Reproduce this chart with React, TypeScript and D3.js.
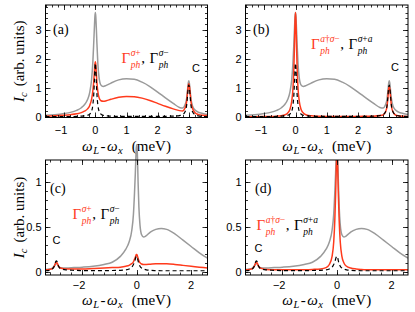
import React, { useEffect, useRef } from 'react';
import * as d3 from 'd3';

// top row (a), (b): detuning grid and intensities
const xTop = [
	-1.6, -1.3, -1.0, -0.8, -0.6, -0.45, -0.35, -0.25, -0.18, -0.12,
	-0.08, -0.05, -0.03, -0.015, 0, 0.015, 0.03, 0.05, 0.08, 0.12,
	0.18, 0.25, 0.35, 0.5, 0.75, 1.0, 1.25, 1.5, 1.75, 2.0,
	2.25, 2.5, 2.7, 2.8, 2.88, 2.93, 2.96, 2.98, 3.0, 3.02,
	3.04, 3.07, 3.12, 3.2, 3.3, 3.45, 3.6,
];
const grayTop = [
	0.06, 0.08, 0.12, 0.16, 0.23, 0.32, 0.42, 0.6, 0.85, 1.3,
	1.9, 2.6, 3.1, 3.45, 3.6, 3.45, 3.1, 2.55, 1.85, 1.35,
	1.1, 1.05, 1.09, 1.17, 1.28, 1.32, 1.3, 1.2, 1.05, 0.86,
	0.66, 0.47, 0.33, 0.31, 0.42, 0.63, 0.93, 1.15, 1.25, 1.15,
	0.93, 0.63, 0.38, 0.24, 0.17, 0.12, 0.09,
];
const redTopA = [
	0.03, 0.04, 0.06, 0.08, 0.11, 0.15, 0.2, 0.28, 0.4, 0.62,
	0.9, 1.25, 1.55, 1.8, 1.9, 1.8, 1.55, 1.2, 0.88, 0.66,
	0.56, 0.54, 0.56, 0.61, 0.68, 0.71, 0.7, 0.65, 0.57, 0.47,
	0.37, 0.28, 0.22, 0.21, 0.31, 0.53, 0.86, 1.06, 1.15, 1.06,
	0.86, 0.53, 0.29, 0.15, 0.09, 0.06, 0.05,
];
const redTopB = [
	0.01, 0.01, 0.015, 0.02, 0.03, 0.045, 0.07, 0.14, 0.26, 0.55,
	1.0, 1.75, 2.6, 3.3, 3.6, 3.3, 2.6, 1.75, 1.0, 0.55,
	0.26, 0.14, 0.07, 0.04, 0.025, 0.02, 0.02, 0.02, 0.02, 0.02,
	0.025, 0.03, 0.05, 0.07, 0.17, 0.38, 0.7, 0.95, 1.05, 0.95,
	0.7, 0.38, 0.17, 0.07, 0.04, 0.025, 0.02,
];
const blackTop = [
	0.01, 0.01, 0.01, 0.015, 0.02, 0.03, 0.04, 0.06, 0.1, 0.2,
	0.42, 0.8, 1.25, 1.65, 1.85, 1.65, 1.25, 0.8, 0.42, 0.2,
	0.1, 0.06, 0.04, 0.03, 0.02, 0.02, 0.02, 0.02, 0.02, 0.02,
	0.025, 0.03, 0.05, 0.08, 0.18, 0.4, 0.75, 1.0, 1.1, 1.0,
	0.75, 0.4, 0.18, 0.08, 0.04, 0.02, 0.015,
];

// bottom row (c), (d)
const xBottom = [
	-3.35, -3.2, -3.1, -3.03, -2.99, -2.97, -2.95, -2.93, -2.91, -2.87,
	-2.8, -2.6, -2.3, -2.0, -1.6, -1.2, -0.9, -0.6, -0.4, -0.28,
	-0.18, -0.12, -0.08, -0.05, -0.03, -0.015, 0, 0.015, 0.03, 0.05,
	0.08, 0.12, 0.18, 0.25, 0.35, 0.5, 0.7, 0.9, 1.1, 1.4,
	1.7, 2.0, 2.3, 2.6,
];
const grayBottom = [
	0.025, 0.03, 0.04, 0.06, 0.08, 0.088, 0.09, 0.088, 0.08, 0.06,
	0.045, 0.04, 0.045, 0.05, 0.06, 0.08, 0.105, 0.17, 0.25, 0.33,
	0.46, 0.64, 0.88, 1.1, 1.28, 1.38, 1.41, 1.38, 1.25, 1.0,
	0.72, 0.52, 0.41, 0.385, 0.4, 0.44, 0.47, 0.48, 0.47, 0.42,
	0.35, 0.28, 0.21, 0.15,
];
const redBottomC = [
	0.02, 0.025, 0.035, 0.06, 0.09, 0.1, 0.105, 0.1, 0.09, 0.06,
	0.04, 0.03, 0.03, 0.03, 0.035, 0.04, 0.045, 0.05, 0.06, 0.07,
	0.09, 0.11, 0.14, 0.16, 0.18, 0.19, 0.19, 0.185, 0.17, 0.15,
	0.12, 0.1, 0.085, 0.08, 0.08, 0.083, 0.087, 0.088, 0.087, 0.08,
	0.07, 0.06, 0.05, 0.04,
];
const redBottomD = [
	0.02, 0.025, 0.035, 0.06, 0.09, 0.1, 0.105, 0.1, 0.09, 0.06,
	0.04, 0.025, 0.02, 0.02, 0.02, 0.022, 0.025, 0.03, 0.045, 0.08,
	0.17, 0.33, 0.57, 0.86, 1.1, 1.25, 1.3, 1.25, 1.1, 0.86,
	0.57, 0.33, 0.17, 0.1, 0.06, 0.04, 0.03, 0.025, 0.022, 0.02,
	0.02, 0.02, 0.02, 0.02,
];
const blackBottom = [
	0.01, 0.015, 0.03, 0.06, 0.1, 0.115, 0.12, 0.115, 0.1, 0.06,
	0.035, 0.02, 0.015, 0.012, 0.012, 0.012, 0.013, 0.015, 0.02, 0.03,
	0.05, 0.08, 0.11, 0.14, 0.16, 0.17, 0.17, 0.165, 0.15, 0.12,
	0.09, 0.06, 0.04, 0.03, 0.02, 0.015, 0.012, 0.01, 0.01, 0.01,
	0.01, 0.01, 0.01, 0.01,
];

const xTicksTop = [-1, 0, 1, 2, 3];
const yTicksTop = [0, 1, 2, 3];
const xTicksBottom = [-2, 0, 2];
const yTicksBottom = [0, 0.5, 1];
const panelLetters = ['(a)', '(b)', '(c)', '(d)'];
const legendSups = [
	['σ+', 'σ−'],
	['a†σ−', 'σ+a'],
	['σ+', 'σ−'],
	['a†σ−', 'σ+a'],
];

const SANS = "'Liberation Sans', Arial, sans-serif";
const SERIF = "'Liberation Serif', 'Times New Roman', serif";
const RED = '#ff3a1c';
const GRAY = '#9a9a9a';

const width = 415;
const height = 312;

const rowTop = { y0: 5, y1: 117.5, yDom: [-0.017, 3.86], yTicks: yTicksTop, yMinor: 0.2, xDom: [-1.6, 3.6], xTicks: xTicksTop, xMinor: 0.2, xs: xTop, tickY: 133.5, titleY: 150.5 };
const rowBottom = { y0: 160, y1: 275, yDom: [-0.037, 1.241], yTicks: yTicksBottom, yMinor: 0.1, xDom: [-3.35, 2.6], xTicks: xTicksBottom, xMinor: 0.4, xs: xBottom, tickY: 288.5, titleY: 305 };
const colLeft = { x0: 45.5, x1: 207.5 };
const colRight = { x0: 245.5, x1: 408 };

const panels = [
	{ row: rowTop, col: colLeft, gray: grayTop, red: redTopA, black: blackTop, clip: true, leg: [121.5, 63], cLab: [196, 72], letter: [53, 34] },
	{ row: rowTop, col: colRight, gray: grayTop, red: redTopB, black: blackTop, clip: true, leg: [311, 49], cLab: [395, 71], letter: [253, 34] },
	{ row: rowBottom, col: colLeft, gray: grayBottom, red: redBottomC, black: blackBottom, clip: false, leg: [72.5, 219], cLab: [56.5, 244], letter: [50, 193] },
	{ row: rowBottom, col: colRight, gray: grayBottom, red: redBottomD, black: blackBottom, clip: true, leg: [256.5, 230], cLab: [258.5, 252], letter: [255, 193] },
];

const Chart = () => {
	const ref = useRef(null);

	useEffect(() => {
		const svg = d3.select(ref.current);
		svg.selectAll('*').remove();

		const scriptText = (g, x, y, str, size, color) => {
			const t = g.append('text').attr('x', x).attr('y', y).attr('fill', color)
				.style('font-family', SERIF).style('font-size', size + 'px');
			for (const ch of str) {
				t.append('tspan').style('font-style', /[a-zσ]/.test(ch) ? 'italic' : 'normal').text(ch);
			}
			return t.node().getComputedTextLength();
		};

		const gamma = (g, x, y, sup, color) => {
			const base = g.append('text').attr('x', x).attr('y', y).attr('fill', color)
				.style('font-family', SERIF).style('font-size', '15px').text('Γ');
			const w = base.node().getComputedTextLength();
			const ws = scriptText(g, x + w + 0.5, y - 7.5, sup, 9.5, color);
			const wb = scriptText(g, x + w + 0.5, y + 5, 'ph', 9.5, color);
			return x + w + 0.5 + Math.max(ws, wb);
		};

		panels.forEach((p, i) => {
			const { row, col } = p;
			const x = d3.scaleLinear().domain(row.xDom).range([col.x0, col.x1]);
			const y = d3.scaleLinear().domain(row.yDom).range([row.y1, row.y0]);
			const g = svg.append('g');

			const clipId = `clip-${i}`;
			svg.append('clipPath').attr('id', clipId).append('rect')
				.attr('x', col.x0).attr('y', row.y0)
				.attr('width', col.x1 - col.x0).attr('height', row.y1 - row.y0);

			const line = d3.line()
				.x((d) => x(d[0]))
				.y((d) => y(d[1]))
				.curve(d3.curveMonotoneX);

			const curves = g.append('g');
			if (p.clip) curves.attr('clip-path', `url(#${clipId})`);
			const series = [
				{ v: p.gray, color: GRAY, w: 1.5, dash: null },
				{ v: p.red, color: RED, w: 1.5, dash: null },
				{ v: p.black, color: '#000', w: 1.2, dash: '4,3' },
			];
			series.forEach((s) => {
				curves.append('path')
					.datum(row.xs.map((xv, k) => [xv, s.v[k]]))
					.attr('d', line)
					.attr('fill', 'none')
					.attr('stroke', s.color)
					.attr('stroke-width', s.w)
					.attr('stroke-dasharray', s.dash);
			});

			// frame
			g.append('rect')
				.attr('x', col.x0).attr('y', row.y0)
				.attr('width', col.x1 - col.x0).attr('height', row.y1 - row.y0)
				.attr('fill', 'none').attr('stroke', '#000').attr('stroke-width', 1);

			// ticks, inward on all sides
			const ticks = g.append('g').attr('stroke', '#000').attr('stroke-width', 0.8);
			const xMinor = d3.range(Math.ceil(row.xDom[0] / row.xMinor) * row.xMinor, row.xDom[1], row.xMinor);
			const yMinor = d3.range(Math.ceil(row.yDom[0] / row.yMinor) * row.yMinor, row.yDom[1], row.yMinor);
			const xt = [...xMinor.map((v) => [v, 2.5]), ...row.xTicks.map((v) => [v, 5])];
			const yt = [...yMinor.map((v) => [v, 2.5]), ...row.yTicks.map((v) => [v, 5])];
			xt.forEach(([v, len]) => {
				const px = Math.round(x(v)) + 0.5;
				ticks.append('line').attr('x1', px).attr('x2', px).attr('y1', row.y1).attr('y2', row.y1 - len);
				ticks.append('line').attr('x1', px).attr('x2', px).attr('y1', row.y0).attr('y2', row.y0 + len);
			});
			yt.forEach(([v, len]) => {
				const py = Math.round(y(v)) + 0.5;
				ticks.append('line').attr('y1', py).attr('y2', py).attr('x1', col.x0).attr('x2', col.x0 + len);
				ticks.append('line').attr('y1', py).attr('y2', py).attr('x1', col.x1).attr('x2', col.x1 - len);
			});

			// tick labels
			row.xTicks.forEach((v) => {
				const neg = v < 0;
				g.append('text')
					.attr('x', neg ? x(v) + 3.1 : x(v))
					.attr('y', row.tickY)
					.attr('text-anchor', neg ? 'end' : 'middle')
					.style('font-family', SANS).style('font-size', '11px')
					.text(String(v).replace('-', '−'));
			});
			row.yTicks.forEach((v) => {
				g.append('text')
					.attr('x', col.x0 - 4)
					.attr('y', y(v))
					.attr('dy', '0.36em')
					.attr('text-anchor', 'end')
					.style('font-family', SANS).style('font-size', '11px')
					.text(String(v));
			});

			// x axis title
			const xt2 = g.append('text')
				.attr('x', (col.x0 + col.x1) / 2)
				.attr('y', row.titleY)
				.attr('text-anchor', 'middle')
				.style('font-family', SERIF).style('font-size', '15px');
			xt2.append('tspan').style('font-style', 'italic').text('ω');
			xt2.append('tspan').style('font-style', 'italic').style('font-size', '10.5px').attr('dy', 3).attr('dx', 0.5).text('L');
			xt2.append('tspan').attr('dy', -3).attr('dx', 1.5).text('-');
			xt2.append('tspan').attr('dx', 1.5).style('font-style', 'italic').text('ω');
			xt2.append('tspan').style('font-style', 'italic').style('font-size', '10.5px').attr('dy', 3).attr('dx', 0.5).text('x');
			xt2.append('tspan').attr('dy', -3).attr('dx', 9).text('(meV)');

			// y axis title, only on left column
			if (col === colLeft) {
				const cy = (row.y0 + row.y1) / 2;
				const yt2 = g.append('text')
					.attr('transform', `translate(24,${cy}) rotate(-90)`)
					.attr('text-anchor', 'middle')
					.style('font-family', SERIF).style('font-size', '15px');
				yt2.append('tspan').style('font-style', 'italic').text('I');
				yt2.append('tspan').style('font-style', 'italic').style('font-size', '10.5px').attr('dy', 3).text('c');
				yt2.append('tspan').attr('dy', -3).attr('dx', 6).text('(arb. units)');
			}

			// panel letter
			g.append('text')
				.attr('x', p.letter[0]).attr('y', p.letter[1])
				.style('font-family', SERIF).style('font-size', '14px')
				.text(panelLetters[i]);

			// C marker
			g.append('text')
				.attr('x', p.cLab[0]).attr('y', p.cLab[1])
				.attr('text-anchor', 'middle')
				.style('font-family', SANS).style('font-size', '11px')
				.text('C');

			// legend
			const lg = g.append('g');
			let lx = gamma(lg, p.leg[0], p.leg[1], legendSups[i][0], RED);
			const comma = lg.append('text').attr('x', lx + 0.5).attr('y', p.leg[1])
				.style('font-family', SERIF).style('font-size', '15px').text(',');
			lx += comma.node().getComputedTextLength() + 5;
			gamma(lg, lx, p.leg[1], legendSups[i][1], '#000');
		});
	}, []);

	return <svg ref={ref} width={width} height={height} style={{ position: 'absolute', left: 0, top: 0, background: '#fff' }} />;
};

export default function App() {
	return <Chart />;
}
